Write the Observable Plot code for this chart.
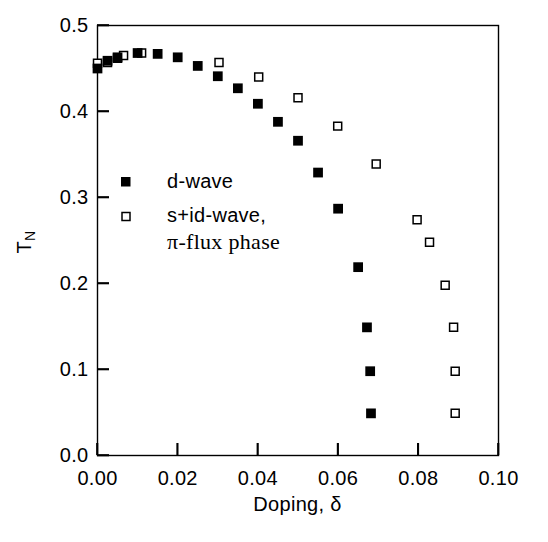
<!DOCTYPE html>
<html>
<head>
<meta charset="utf-8">
<script src="https://cdn.jsdelivr.net/npm/d3@7"></script>
<script src="https://cdn.jsdelivr.net/npm/@observablehq/plot@0.6"></script>
<style>
  html, body { margin: 0; padding: 0; background: white; }
  svg { display: block; }
</style>
</head>
<body>
<div id="chart"></div>
<script>
// d-wave (filled squares)
const dDoping = [0, 0.0025, 0.005, 0.01, 0.015, 0.02, 0.025, 0.03, 0.035, 0.04, 0.045, 0.05, 0.055, 0.06, 0.065, 0.0672, 0.068, 0.0682];
const dTN     = [0.450, 0.459, 0.463, 0.468, 0.467, 0.463, 0.453, 0.441, 0.427, 0.409, 0.388, 0.366, 0.329, 0.287, 0.219, 0.149, 0.098, 0.049];
// s+id-wave, pi-flux phase (open squares)
const sDoping = [0, 0.0025, 0.005, 0.0065, 0.011, 0.0303, 0.0402, 0.050, 0.0599, 0.0695, 0.0797, 0.0828, 0.0867, 0.0888, 0.0892, 0.0892];
const sTN     = [0.456, 0.457, 0.462, 0.465, 0.468, 0.457, 0.440, 0.416, 0.383, 0.339, 0.274, 0.248, 0.198, 0.149, 0.098, 0.049];

const xTicks = [0, 0.02, 0.04, 0.06, 0.08, 0.10];
const yTicks = [0, 0.1, 0.2, 0.3, 0.4, 0.5];
const legendLabels = ["d-wave", "s+id-wave,", "π-flux phase"];
const xLabel = "Doping, δ";

const dData = dDoping.map((x, i) => ({x, y: dTN[i]}));
const sData = sDoping.map((x, i) => ({x, y: sTN[i]}));

const W = 548, H = 542, mL = 97, mR = 50, mT = 25, mB = 87;
const tickLen = 12;
const xDomain = [0, 0.1], yDomain = [0, 0.5];
const tickLenY = tickLen / (H - mT - mB) * (yDomain[1] - yDomain[0]);
const tickLenX = tickLen / (W - mL - mR) * (xDomain[1] - xDomain[0]);

const sans = "'Liberation Sans', Arial, sans-serif";
const serif = "'Liberation Serif', 'Times New Roman', serif";

const chart = Plot.plot({
  width: W,
  height: H,
  marginLeft: mL,
  marginRight: mR,
  marginTop: mT,
  marginBottom: mB,
  style: {fontFamily: sans, fontSize: "20px", color: "black", background: "white", letterSpacing: "0.3px"},
  x: {domain: xDomain},
  y: {domain: yDomain},
  marks: [
    Plot.frame({stroke: "black", strokeWidth: 1.4}),
    Plot.axisX({ticks: xTicks, tickFormat: d3.format(".2f"), tickSize: 0, tickPadding: 15, label: null}),
    Plot.axisY({ticks: yTicks, tickFormat: d3.format(".1f"), tickSize: 0, tickPadding: 9, label: null}),
    Plot.ruleX(xTicks, {x: d => d, y1: () => yDomain[0], y2: () => yDomain[0] + tickLenY, stroke: "#000", strokeWidth: 1.6}),
    Plot.ruleY(yTicks, {y: d => d, x1: () => xDomain[0], x2: () => xDomain[0] + tickLenX, stroke: "#000", strokeWidth: 1.6}),
    Plot.dot(sData, {x: "x", y: "y", symbol: "square", r: 4.5, stroke: "black", strokeWidth: 1.5, fill: "white"}),
    Plot.dot(dData, {x: "x", y: "y", symbol: "square", r: 5.5, fill: "black", stroke: "none"})
  ]
});

document.getElementById("chart").appendChild(chart);

const svg = d3.select(chart);
const sx = chart.scale("x"), sy = chart.scale("y");
const x0 = sx.apply(xDomain[0]), y0 = sy.apply(yDomain[0]);

// inward tick marks, positioned by the chart's own scales
const tg = svg.append("g");
xTicks.forEach(t => {
  const px = sx.apply(t);
  tg.append("path").attr("d", `M${px},${y0}V${y0 - tickLen}`).attr("stroke", "#000").attr("stroke-width", 1.6).attr("fill", "none");
});
yTicks.forEach(t => {
  const py = sy.apply(t);
  tg.append("path").attr("d", `M${x0},${py}H${x0 + tickLen}`).attr("stroke", "#000").attr("stroke-width", 1.6).attr("fill", "none");
});

// Y label T_N
const yl = svg.append("text")
  .attr("transform", "translate(31,242) rotate(-90)")
  .attr("text-anchor", "middle")
  .attr("font-family", sans)
  .attr("font-size", 20)
  .attr("fill", "#000");
yl.append("tspan").attr("fill", "#000").text("T");
yl.append("tspan").attr("fill", "#000").attr("font-size", 14).attr("dy", 4).text("N");

// X label
svg.append("text")
  .attr("x", (mL + W - mR) / 2).attr("y", 511)
  .attr("text-anchor", "middle")
  .attr("font-family", sans)
  .attr("font-size", 20)
  .attr("fill", "#000")
  .text(xLabel);

// Legend
const lg = svg.append("g").attr("text-anchor", "start");
lg.append("rect").attr("x", 121).attr("y", 177).attr("width", 9.5).attr("height", 9.5).attr("fill", "black");
lg.append("rect").attr("x", 122).attr("y", 212.5).attr("width", 8).attr("height", 8).attr("fill", "white").attr("stroke", "black").attr("stroke-width", 1.5);
lg.append("text").attr("x", 167).attr("y", 188).attr("text-anchor", "start").attr("font-family", sans).attr("font-size", 20).attr("fill", "#000").text(legendLabels[0]);
lg.append("text").attr("x", 167).attr("y", 222).attr("text-anchor", "start").attr("font-family", sans).attr("font-size", 20).attr("fill", "#000").text(legendLabels[1]);
lg.append("text").attr("x", 167).attr("y", 249).attr("text-anchor", "start").attr("font-family", serif).attr("font-size", 22).attr("fill", "#000").text(legendLabels[2]);
</script>
</body>
</html>
